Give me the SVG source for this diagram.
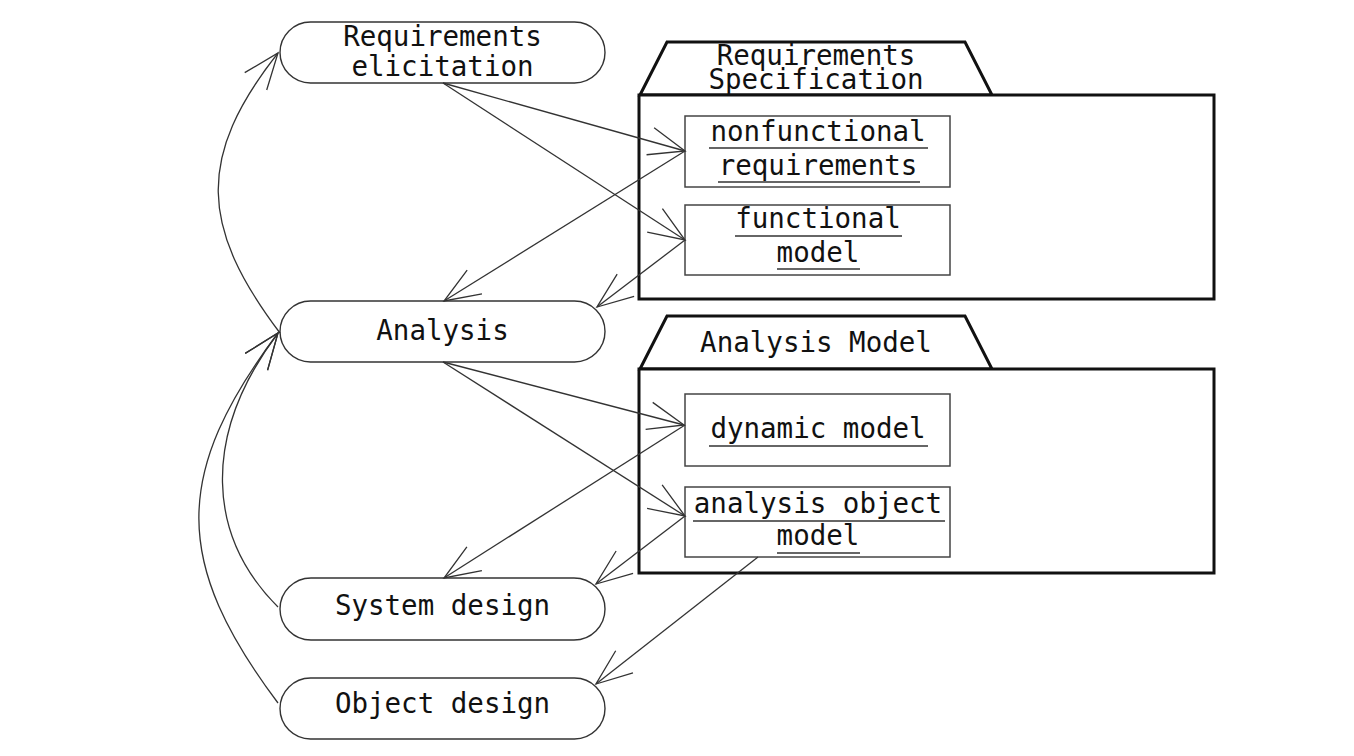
<svg xmlns="http://www.w3.org/2000/svg" width="1354" height="756" viewBox="0 0 1354 756">
<defs>
<style>
.node{fill:#fff;stroke:#333;stroke-width:1.4}
.pkg{fill:#fff;stroke:#111;stroke-width:3}
.obj{fill:#fff;stroke:#444;stroke-width:1.5}
.t{font-family:"DejaVu Sans Mono","Liberation Mono",monospace;font-size:27.5px;fill:#111;text-anchor:middle}
.ul{stroke:#333;stroke-width:1.5}
.c{fill:none;stroke:#333;stroke-width:1.3;marker-end:url(#open)}
</style>
<marker id="open" markerUnits="userSpaceOnUse" viewBox="-40 -20 44 40" markerWidth="44" markerHeight="40" refX="0" refY="0" orient="auto" overflow="visible">
<path d="M-36,-14 L0,0 L-36,14" fill="none" stroke="#333" stroke-width="1.3"/>
</marker>
</defs>
<rect width="1354" height="756" fill="#fff"/>

<g id="pkg-reqspec">
<polygon class="pkg" points="640,95 667,42 965,42 992,95"/>
<rect class="pkg" x="639" y="95" width="575" height="204"/>
<text class="t" x="816" y="65">Requirements</text>
<text class="t" x="816" y="89">Specification</text>
</g>
<g id="pkg-analysis">
<polygon class="pkg" points="640,369 667,316 965,316 992,369"/>
<rect class="pkg" x="639" y="369" width="575" height="204"/>
<text class="t" x="816" y="352">Analysis Model</text>
</g>

<g id="obj-nonfunc">
<rect class="obj" x="685" y="116" width="265" height="71"/>
<text class="t" x="818" y="141">nonfunctional</text>
<line class="ul" x1="709" y1="148" x2="928" y2="148"/>
<text class="t" x="818" y="175">requirements</text>
<line class="ul" x1="718" y1="182" x2="920" y2="182"/>
</g>
<g id="obj-func">
<rect class="obj" x="685" y="205" width="265" height="70"/>
<text class="t" x="818" y="228">functional</text>
<line class="ul" x1="735" y1="236" x2="902" y2="236"/>
<text class="t" x="818" y="262">model</text>
<line class="ul" x1="777" y1="269" x2="860" y2="269"/>
</g>
<g id="obj-dynamic">
<rect class="obj" x="685" y="394" width="265" height="72"/>
<text class="t" x="818" y="438">dynamic model</text>
<line class="ul" x1="709" y1="446" x2="928" y2="446"/>
</g>
<g id="obj-aom">
<rect class="obj" x="685" y="487" width="265" height="70"/>
<text class="t" x="818" y="513">analysis object</text>
<line class="ul" x1="693" y1="521" x2="945" y2="521"/>
<text class="t" x="818" y="545">model</text>
<line class="ul" x1="777" y1="553" x2="860" y2="553"/>
</g>

<g id="node-reqelic">
<rect class="node" x="280" y="22" width="325" height="61" rx="30.5"/>
<text class="t" x="442.5" y="46">Requirements</text>
<text class="t" x="442.5" y="76">elicitation</text>
</g>
<g id="node-analysis">
<rect class="node" x="280" y="301" width="325" height="61" rx="30.5"/>
<text class="t" x="442.5" y="340">Analysis</text>
</g>
<g id="node-sysdesign">
<rect class="node" x="280" y="578" width="325" height="62" rx="31"/>
<text class="t" x="442.5" y="615">System design</text>
</g>
<g id="node-objdesign">
<rect class="node" x="280" y="678" width="325" height="61" rx="30.5"/>
<text class="t" x="442.5" y="713">Object design</text>
</g>

<g id="connectors">
<line class="c" x1="443" y1="83" x2="685" y2="151"/>
<line class="c" x1="443" y1="83" x2="685" y2="240"/>
<line class="c" x1="685" y1="151" x2="444" y2="301"/>
<line class="c" x1="685" y1="240" x2="597" y2="307"/>
<line class="c" x1="443" y1="362" x2="684" y2="425"/>
<line class="c" x1="443" y1="362" x2="685" y2="516"/>
<line class="c" x1="685" y1="425" x2="444" y2="578"/>
<line class="c" x1="685" y1="516" x2="596" y2="584"/>
<line class="c" x1="758" y1="557" x2="596" y2="684"/>
<path class="c" d="M280,333 C200,227 196,157 278,53"/>
<path class="c" d="M278,607 C208,537 200,437 278,333"/>
<path class="c" d="M278,703 C173,563 172,474 278,333"/>
</g>
</svg>
